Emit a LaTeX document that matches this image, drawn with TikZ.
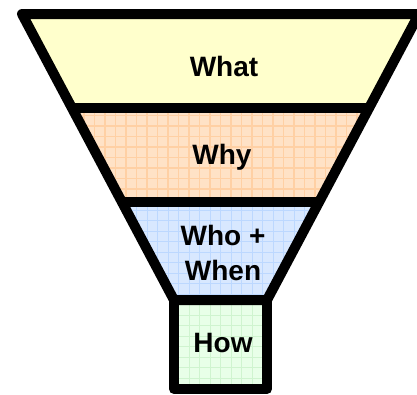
\documentclass[tikz,border=0pt]{standalone}
\usepackage{fontspec}
\setmainfont{Liberation Sans}
\definecolor{whatfill}{HTML}{FFFFCC}
\definecolor{whyfill}{HTML}{FFE2C6}
\definecolor{whygrid}{HTML}{FFD0A4}
\definecolor{whofill}{HTML}{D8E8FF}
\definecolor{whogrid}{HTML}{BCD8FF}
\definecolor{howfill}{HTML}{E8FFE8}
\definecolor{howgrid}{HTML}{CFF4CF}
\tikzset{
  label text/.style={font=\fontsize{28}{35}\selectfont\bfseries, text=black, align=center, inner sep=0pt},
  outline/.style={draw=black, line width=10pt, line join=round}
}
\begin{document}
\begin{tikzpicture}[x=1pt,y=-1pt]
\useasboundingbox (0,0) rectangle (417,394);
% fills
\fill[whatfill] (22,14) -- (419,14) -- (369,108) -- (72,108) -- cycle;
\begin{scope}
  \clip (72,108) -- (369,108) -- (319,202) -- (122,202) -- cycle;
  \fill[whyfill] (60,100) rectangle (380,210);
  \draw[whygrid, line width=1.2pt, step=10.5pt] (60,100) grid (380,210);
\end{scope}
\begin{scope}
  \clip (122,202) -- (319,202) -- (267,300) -- (174,300) -- cycle;
  \fill[whofill] (110,195) rectangle (330,305);
  \draw[whogrid, line width=1pt, step=10.5pt] (110,195) grid (330,305);
\end{scope}
\begin{scope}
  \clip (174,300) rectangle (267,389);
  \fill[howfill] (170,295) rectangle (270,392);
  \draw[howgrid, line width=1pt, step=10.5pt] (170,295) grid (270,392);
\end{scope}
% outlines
\draw[outline] (174,300) -- (22,14) -- (419,14) -- (267,300) -- cycle;
\draw[outline] (72,108) -- (369,108);
\draw[outline] (122,202) -- (319,202);
\draw[outline] (174,300) rectangle (267,389);
% labels
\node[label text] (what) at (224,66) {What};
\node[label text] (why) at (222,157) {Why};
\node[label text] (who) at (223,253) {Who +\\When};
\node[label text] (how) at (223,343) {How};
\end{tikzpicture}
\end{document}
